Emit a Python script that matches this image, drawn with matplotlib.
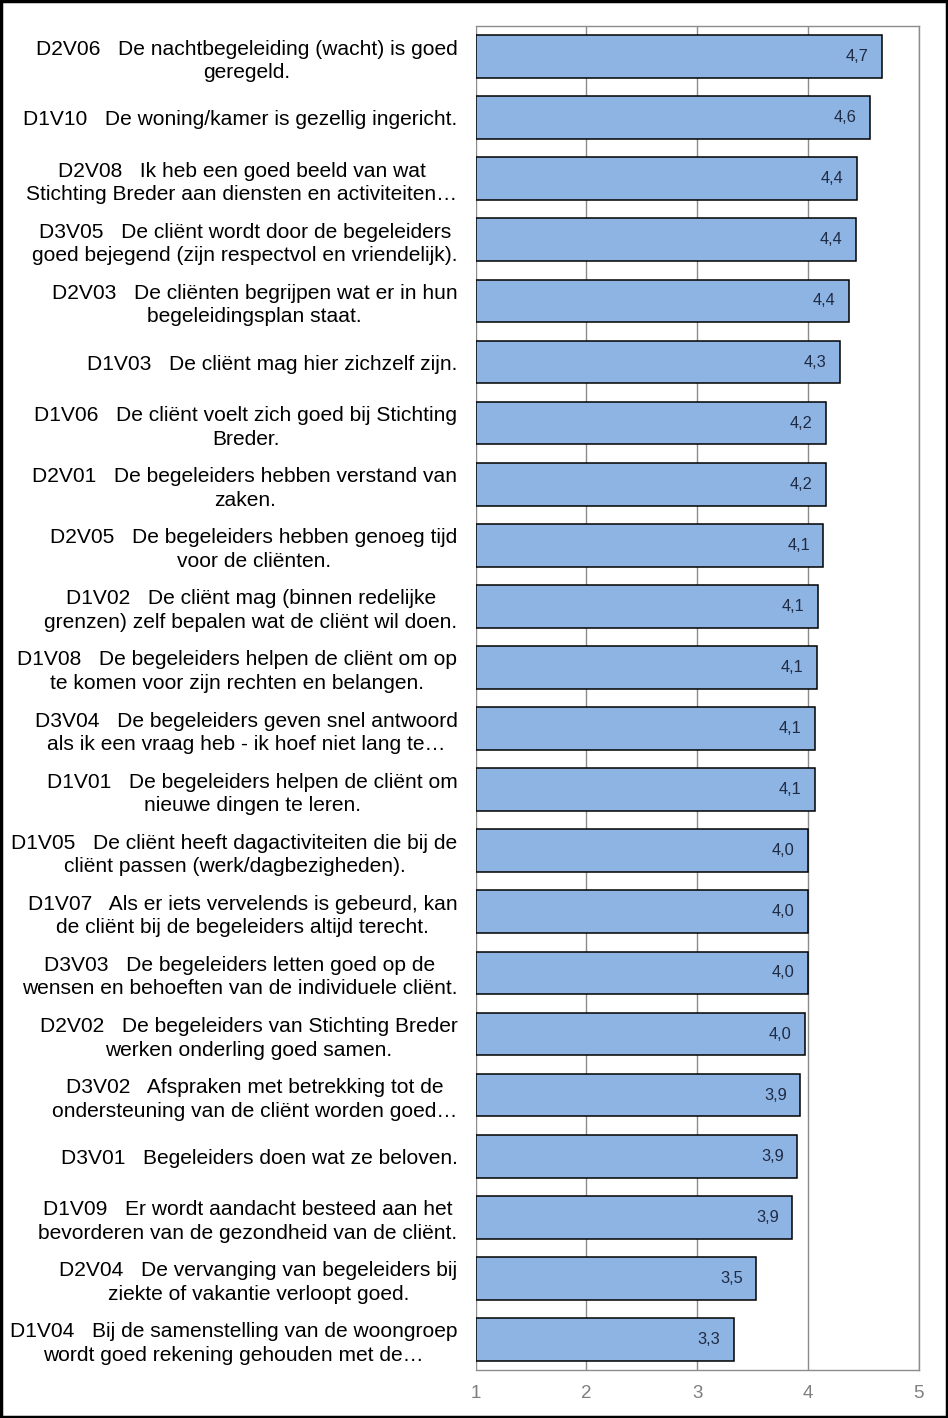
import matplotlib
matplotlib.use('Agg')
from matplotlib import pyplot as plt
from matplotlib.patches import Rectangle

plt.rcParams['font.family'] = ['Liberation Sans', 'DejaVu Sans']

# vragen, van boven naar beneden
labels = [
    "D2V06   De nachtbegeleiding (wacht) is goed\ngeregeld.",
    "D1V10   De woning/kamer is gezellig ingericht.",
    "D2V08   Ik heb een goed beeld van wat\nStichting Breder aan diensten en activiteiten…",
    "D3V05   De cliënt wordt door de begeleiders\ngoed bejegend (zijn respectvol en vriendelijk).",
    "D2V03   De cliënten begrijpen wat er in hun\nbegeleidingsplan staat.",
    "D1V03   De cliënt mag hier zichzelf zijn.",
    "D1V06   De cliënt voelt zich goed bij Stichting\nBreder.",
    "D2V01   De begeleiders hebben verstand van\nzaken.",
    "D2V05   De begeleiders hebben genoeg tijd\nvoor de cliënten.",
    "D1V02   De cliënt mag (binnen redelijke\ngrenzen) zelf bepalen wat de cliënt wil doen.",
    "D1V08   De begeleiders helpen de cliënt om op\nte komen voor zijn rechten en belangen.",
    "D3V04   De begeleiders geven snel antwoord\nals ik een vraag heb - ik hoef niet lang te…",
    "D1V01   De begeleiders helpen de cliënt om\nnieuwe dingen te leren.",
    "D1V05   De cliënt heeft dagactiviteiten die bij de\ncliënt passen (werk/dagbezigheden).",
    "D1V07   Als er iets vervelends is gebeurd, kan\nde cliënt bij de begeleiders altijd terecht.",
    "D3V03   De begeleiders letten goed op de\nwensen en behoeften van de individuele cliënt.",
    "D2V02   De begeleiders van Stichting Breder\nwerken onderling goed samen.",
    "D3V02   Afspraken met betrekking tot de\nondersteuning van de cliënt worden goed…",
    "D3V01   Begeleiders doen wat ze beloven.",
    "D1V09   Er wordt aandacht besteed aan het\nbevorderen van de gezondheid van de cliënt.",
    "D2V04   De vervanging van begeleiders bij\nziekte of vakantie verloopt goed.",
    "D1V04   Bij de samenstelling van de woongroep\nwordt goed rekening gehouden met de…",
]
scores = [4.67, 4.56, 4.44, 4.43, 4.37, 4.29, 4.16, 4.16, 4.14, 4.09, 4.08,
          4.06, 4.06, 4.00, 4.00, 4.00, 3.97, 3.93, 3.90, 3.86, 3.53, 3.33]
x_ticks = [1, 2, 3, 4, 5]

fig = plt.figure(figsize=(9.48, 14.18), dpi=100)
ax = fig.add_axes([0.5016, 0.03385, 0.9691 - 0.5016, 0.98166 - 0.03385])

pos = list(range(len(labels)))
ax.barh(pos, [s - 1 for s in scores], left=1, height=0.70,
        color='#8EB4E3', edgecolor='black', linewidth=1.1, zorder=3)

for p, s in zip(pos, scores):
    ax.annotate(('%.1f' % s).replace('.', ','), xy=(s, p), xytext=(-9.5, 0),
                textcoords='offset points', ha='right', va='center',
                fontsize=11.8, color='#1F2A44', zorder=4)

ax.set_xlim(1, 5)
ax.set_ylim(len(labels) - 0.5, -0.5)
ax.set_xticks(x_ticks)
ax.set_xticklabels([str(t) for t in x_ticks])
ax.set_yticks(pos)
ax.set_yticklabels(labels, fontsize=15.1, multialignment='center', linespacing=1.3)
ax.tick_params(axis='y', length=0, pad=13)
ax.tick_params(axis='x', length=0, pad=11, labelsize=13.5, labelcolor='#7F7F7F')
ax.xaxis.grid(True, color='#8C8C8C', linewidth=1.0, zorder=0)
ax.set_axisbelow(True)
for side in ['top', 'bottom', 'right']:
    ax.spines[side].set_color('#8C8C8C')
    ax.spines[side].set_linewidth(1.0)
ax.spines['left'].set_visible(False)

# zwarte rand om de hele figuur
fig.patches.append(Rectangle((0.0015, 0.001), 0.997, 0.998, transform=fig.transFigure,
                             fill=False, edgecolor='black', linewidth=2.5))

plt.savefig('out.png', dpi=100)
